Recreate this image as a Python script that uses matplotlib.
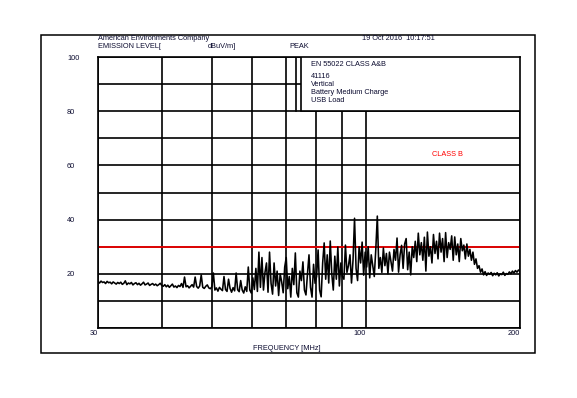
import numpy as np
import matplotlib
matplotlib.use("Agg")
import matplotlib.pyplot as plt
from matplotlib.patches import Rectangle
from matplotlib.ticker import NullFormatter

plt.rcParams['font.family'] = ['Liberation Sans', 'DejaVu Sans']

level_dbuv = [
    # 30-40 MHz
    17.1, 16.6, 17.3, 16.8, 17.0, 16.4, 17.2, 16.7, 16.9, 16.3, 17.0, 16.6, 16.2, 16.8, 16.4,
    16.9, 16.1, 16.5, 17.4, 16.0, 16.6, 16.3, 16.8, 15.9, 16.4, 16.7, 16.0, 16.5, 15.8, 16.3,
    16.9, 15.9, 16.2, 16.6, 15.7, 16.1, 16.4, 15.8, 16.2, 15.6, 16.0, 16.5, 15.7,
    # 40-50 MHz
    15.4, 16.0, 15.2, 15.8, 15.0, 15.6, 16.2, 15.1, 15.5, 14.9, 15.7, 15.3, 16.4, 15.0, 18.8,
    15.2, 15.6, 14.8, 15.4, 16.0, 15.1, 18.8, 15.3, 14.7, 15.5, 19.6, 15.0, 14.6, 15.4, 15.9, 14.8,
    # 50-60 MHz
    14.5, 15.2, 20.3, 14.0, 14.8, 13.6, 15.0, 14.3, 13.8, 19.0, 14.2, 13.5, 18.0, 14.6, 13.2,
    14.9, 13.7, 20.3, 14.1, 13.4, 17.5, 14.0, 12.9, 15.2, 13.5, 22.5, 14.0,
    # 60-70 MHz
    12.9, 18.5, 14.2, 22.0, 13.5, 28.0, 15.0, 26.0, 14.0, 20.5, 24.0, 13.2, 28.0, 16.5, 12.5,
    24.0, 15.5, 21.0, 12.0, 20.0, 17.0, 13.0, 22.5,
    # 70-80 MHz
    26.0, 14.5, 19.0, 11.4, 22.0, 16.0, 27.7, 13.0, 11.4, 21.0, 17.5, 24.4, 14.0, 12.2, 20.0,
    27.0, 15.0, 11.4, 23.5, 16.5, 19.0,
    # 80-90 MHz
    28.8, 14.0, 11.5, 24.0, 31.4, 18.0, 27.0, 16.6, 32.1, 20.0, 14.0, 26.5, 18.0, 29.9, 15.5,
    24.0, 19.0,
    # 90-100 MHz
    18.0, 30.6, 20.5, 23.0, 27.0, 16.6, 25.0, 40.5, 22.0, 17.5, 30.0, 24.0, 31.7, 19.5, 28.0,
    # 100-106 MHz
    22.5, 30.0, 18.5, 27.0, 23.0, 19.0, 29.0, 41.3, 22.0,
    # 106-125 MHz
    26.0, 20.5, 29.5, 23.0, 27.5, 20.0, 28.0, 24.5, 21.0, 29.0, 25.0, 33.2, 20.6, 27.0, 30.5,
    22.0, 31.0, 33.0, 21.5, 28.0, 19.6, 30.0, 26.0,
    # 125-160 MHz
    32.0, 24.5, 35.0, 27.0, 31.5, 25.0, 33.5, 21.0, 35.4, 26.5, 30.0, 24.0, 34.5, 27.5, 32.0,
    25.5, 35.0, 28.0, 33.0, 24.5, 35.2, 26.0, 31.5, 29.0, 34.0, 25.0, 33.6, 27.0, 31.0, 24.5,
    33.0, 28.5, 30.6, 25.5, 31.0, 26.5, 29.0,
    # 160-172 MHz
    25.0, 28.0, 23.5, 25.5, 22.0, 23.0, 20.6, 21.8, 19.6, 20.8, 19.4, 20.3,
    # 172-200 MHz
    19.8, 20.5, 19.3, 20.2, 19.6, 20.4, 19.2, 20.0, 19.7, 20.6, 19.4, 20.1, 19.8, 20.7, 20.0,
    21.0, 20.3, 21.2, 20.6, 21.4, 20.9,
]
freq_mhz = np.geomspace(30, 200, len(level_dbuv))

limit_class_b = 30
x_grid = [30, 40, 50, 60, 70, 80, 90, 100, 200]
x_labels = ['30', '', '', '', '', '', '', '100', '200']
y_grid = [0, 10, 20, 30, 40, 50, 60, 70, 80, 90, 100]
y_labels = ['', '', '20', '', '40', '', '60', '', '80', '', '100']

info_lines = ['EN 55022 CLASS A&B', '41116', 'Vertical', 'Battery Medium Charge', 'USB Load']
info_y_px = [64, 76, 85, 93, 101]

W, H = 577, 398
txt_col = '#0c0c30'
fs = 5.3

def fx(px):
    return px / W

def fy(py):
    return 1 - py / H

fig = plt.figure(figsize=(W / 100, H / 100), dpi=100)
ax = fig.add_axes([fx(98), fy(328), fx(520) - fx(98), fy(57) - fy(328)])

ax.set_xscale('log')
ax.set_xlim(30, 200)
ax.set_ylim(0, 100)
ax.set_xticks(x_grid, x_labels)
ax.xaxis.set_minor_formatter(NullFormatter())
ax.set_xticks([], minor=True)
ax.set_yticks(y_grid, y_labels)
ax.tick_params(axis='both', which='both', length=0, labelsize=fs, labelcolor=txt_col)
ax.tick_params(axis='x', pad=1.5)
ax.tick_params(axis='y', pad=22.3)
for lab in ax.get_xticklabels():
    lab.set_horizontalalignment('right')
for lab in ax.get_yticklabels():
    lab.set_horizontalalignment('left')
ax.grid(True, color='black', linewidth=1.2, zorder=0)
ax.set_axisbelow(True)
for s in ax.spines.values():
    s.set_linewidth(1.2)

ax.plot(freq_mhz, level_dbuv, color='black', linewidth=1.15, zorder=3)
ax.axhline(limit_class_b, color='red', linewidth=1.2, zorder=2)

# info box in the upper right
box_x0 = (301 - 98) / 422
ax.add_patch(Rectangle((box_x0, 0.8), 1 - box_x0, 0.2, transform=ax.transAxes,
                       facecolor='white', edgecolor='black', linewidth=1.2, zorder=4))
ax.plot([(296 - 98) / 422] * 2, [0.8, 1.0], transform=ax.transAxes,
        color='black', linewidth=1.2, zorder=4)
for line, py in zip(info_lines, info_y_px):
    fig.text(fx(311), fy(py), line, fontsize=fs, color=txt_col, va='center', ha='left', zorder=5)

fig.text(fx(432), fy(155), 'CLASS B', fontsize=fs, color='red', va='center', ha='left')

# header
fig.text(fx(98), fy(38.5), 'American Environments Company', fontsize=fs, color=txt_col, va='center')
fig.text(fx(98), fy(46), 'EMISSION LEVEL[', fontsize=fs, color=txt_col, va='center')
fig.text(fx(208), fy(46), 'dBuV/m]', fontsize=fs, color=txt_col, va='center')
fig.text(fx(289), fy(46), 'PEAK', fontsize=fs, color=txt_col, va='center')
fig.text(fx(362), fy(38.5), '19 Oct 2016  10:17:51', fontsize=fs, color=txt_col, va='center')
fig.text(fx(287), fy(348), 'FREQUENCY [MHz]', fontsize=fs, color=txt_col, va='center', ha='center')

# outer frame
fig.patches.append(Rectangle((fx(41), fy(353)), fx(535) - fx(41), fy(35) - fy(353),
                             transform=fig.transFigure, fill=False, edgecolor='black',
                             linewidth=1.1))

fig.savefig('out.png', dpi=100)
